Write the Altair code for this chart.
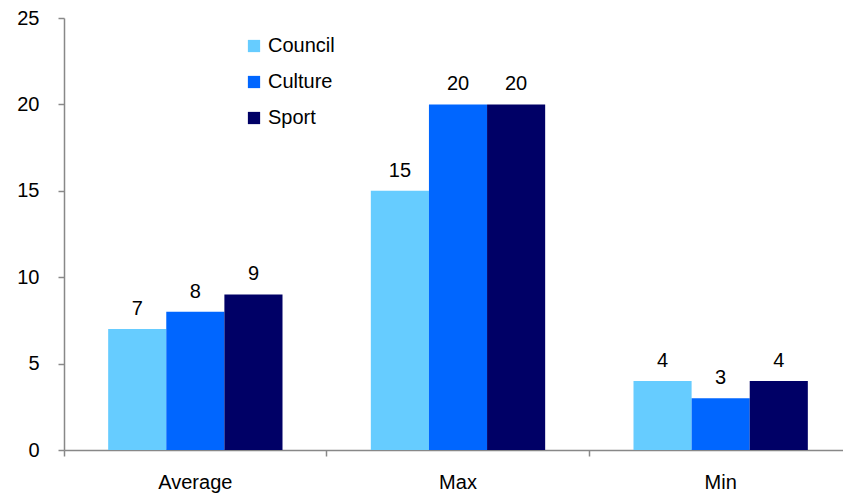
import altair as alt
import pandas as pd

categories = ["Average", "Max", "Min"]
series = ["Council", "Culture", "Sport"]
council = [7, 15, 4]
culture = [8, 20, 3]
sport = [9, 20, 4]
colors = ["#66CCFF", "#0066FF", "#000066"]

rows = []
for i, c in enumerate(categories):
    for s, vals in zip(series, [council, culture, sport]):
        rows.append({"category": c, "series": s, "value": vals[i]})
df = pd.DataFrame(rows)

FONT = "Liberation Sans"
FS = 20

x = alt.X("category:N", sort=categories, title=None,
          scale=alt.Scale(paddingInner=0, paddingOuter=0, range=[0, 788]),
          axis=alt.Axis(labelAngle=0, labelFontSize=FS, labelFont=FONT,
                        labelColor="#000000", domainColor="#888888", domainWidth=1.5,
                        tickColor="#888888", tickWidth=1.5, tickSize=6, bandPosition=0,
                        labelPadding=16))
xo = alt.XOffset("series:N", sort=series,
                 scale=alt.Scale(paddingInner=0, paddingOuter=0.76))

bars = alt.Chart(df).mark_bar().encode(
    x=x,
    xOffset=xo,
    y=alt.Y("value:Q", title=None,
            scale=alt.Scale(domain=[0, 25], nice=False),
            axis=alt.Axis(values=[0, 5, 10, 15, 20, 25], grid=False, labelFontSize=FS,
                          labelFont=FONT, labelColor="#000000",
                          domainColor="#888888", domainWidth=1.5, tickColor="#888888",
                          tickWidth=1.5, tickSize=6, labelPadding=19)),
    color=alt.Color("series:N", sort=series,
                    scale=alt.Scale(domain=series, range=colors),
                    legend=alt.Legend(title=None, orient="none", legendX=180, legendY=18,
                                      symbolType="square", symbolSize=150,
                                      symbolStrokeWidth=0, labelFontSize=FS,
                                      labelFont=FONT, labelColor="#000000",
                                      rowPadding=16, labelOffset=4)),
)

labels = alt.Chart(df).mark_text(fontSize=FS, font=FONT, color="#000000",
                                 baseline="alphabetic", dy=-14).encode(
    x=alt.X("category:N", sort=categories),
    xOffset=xo,
    y=alt.Y("value:Q"),
    text=alt.Text("value:Q"),
)

chart = (bars + labels).properties(
    width=779, height=432,
    autosize=alt.AutoSizeParams(type="none"),
    padding={"left": 64, "top": 18, "right": 0, "bottom": 43},
).configure_view(stroke=None)

chart.save("out.html", embed_options={"renderer": "svg", "actions": False})
